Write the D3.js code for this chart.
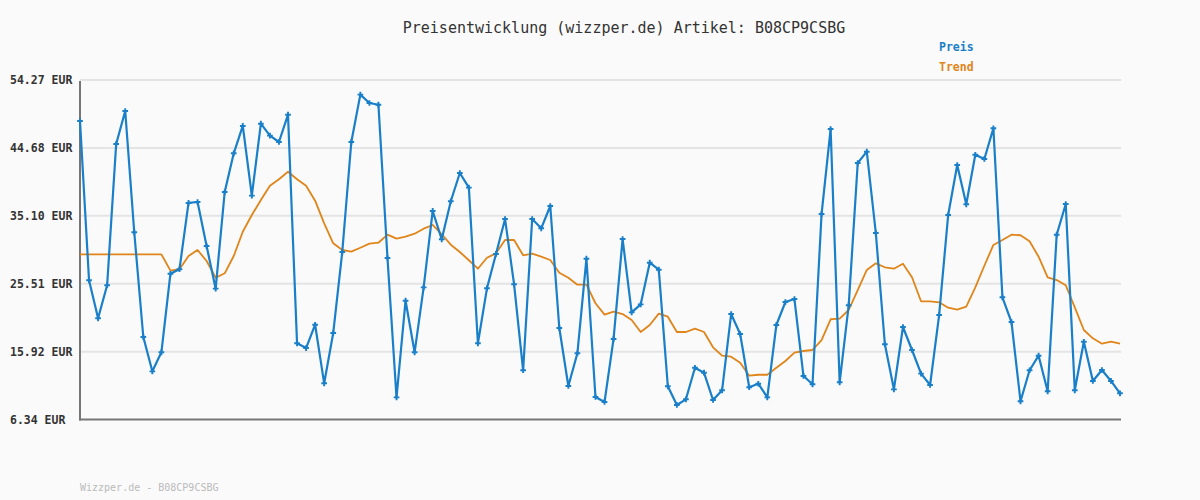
<!DOCTYPE html>
<html>
<head>
<meta charset="utf-8">
<script src="https://cdn.jsdelivr.net/npm/d3@7/dist/d3.min.js"></script>
<style>
  html, body { margin: 0; padding: 0; background: #fafafa; }
  svg { display: block; }
</style>
</head>
<body>
<svg id="chart" width="1200" height="500"></svg>
<script>
const titleText = "Preisentwicklung (wizzper.de) Artikel: B08CP9CSBG";
const footerText = "Wizzper.de - B08CP9CSBG";
const seriesNames = ["Preis", "Trend"];
const yTicks = [6.34, 15.92, 25.51, 35.10, 44.68, 54.27];
const yTickLabels = ["6.34 EUR", "15.92 EUR", "25.51 EUR", "35.10 EUR", "44.68 EUR", "54.27 EUR"];

const preis = [
  48.48, 25.99, 20.63, 25.29, 45.23, 49.89, 32.77, 17.99, 13.14, 15.83,
  26.92, 27.55, 36.91, 37.05, 30.83, 24.81, 38.46, 43.92, 47.78, 37.94,
  48.10, 46.41, 45.52, 49.37, 17.10, 16.43, 19.72, 11.45, 18.55, 29.99,
  45.52, 52.20, 51.02, 50.78, 29.14, 9.47, 23.11, 15.83, 25.00, 35.78,
  31.78, 37.15, 41.14, 39.07, 17.10, 24.86, 29.71, 34.65, 25.43, 13.29,
  34.65, 33.33, 36.48, 19.26, 11.07, 15.69, 29.04, 9.52, 8.81, 17.71,
  31.82, 21.47, 22.60, 28.48, 27.49, 11.03, 8.39, 9.19, 13.65, 12.95,
  9.09, 10.46, 21.23, 18.41, 10.89, 11.39, 9.47, 19.68, 22.93, 23.35,
  12.48, 11.31, 35.35, 47.35, 11.59, 22.46, 42.55, 44.15, 32.67, 16.96,
  10.60, 19.40, 16.15, 12.81, 11.21, 21.09, 35.21, 42.27, 36.72, 43.72,
  43.12, 47.45, 23.59, 20.10, 8.91, 13.29, 15.35, 10.32, 32.43, 36.76,
  10.46, 17.32, 11.78, 13.33, 11.78, 10.04
];

const trend = [
  29.66, 29.66, 29.66, 29.66, 29.66, 29.66, 29.66, 29.66, 29.66, 29.66,
  27.35, 27.55, 29.42, 30.27, 28.72, 26.36, 26.98, 29.42, 32.85, 35.21,
  37.33, 39.35, 40.25, 41.32, 40.25, 39.35, 37.23, 34.04, 31.22, 30.27,
  30.03, 30.59, 31.16, 31.30, 32.43, 31.87, 32.15, 32.57, 33.28, 33.80,
  32.49, 31.02, 29.99, 28.82, 27.63, 29.18, 29.80, 31.68, 31.68, 29.52,
  29.75, 29.32, 28.86, 27.07, 26.36, 25.37, 25.37, 22.75, 21.14, 21.56,
  21.23, 20.39, 18.69, 19.68, 21.28, 20.85, 18.69, 18.69, 19.16, 18.69,
  16.53, 15.35, 15.21, 14.36, 12.52, 12.66, 12.66, 13.65, 14.60, 15.77,
  16.01, 16.15, 17.56, 20.49, 20.57, 21.80, 24.62, 27.45, 28.39, 27.83,
  27.63, 28.34, 26.42, 23.03, 23.03, 22.89, 22.12, 21.84, 22.27, 25.00,
  28.05, 30.98, 31.68, 32.43, 32.35, 31.50, 29.32, 26.42, 26.03, 25.29,
  22.18, 18.98, 17.80, 17.04, 17.32, 17.04
];

const colors = { preis: "#1a7fc9", trend: "#e0851a" };
const mono = "'DejaVu Sans Mono', 'Liberation Mono', monospace";

const svg = d3.select("#chart");
svg.append("rect").attr("width", 1200).attr("height", 500).attr("fill", "#fafafa");

const x = d3.scaleLinear().domain([0, preis.length - 1]).range([80, 1120]);
const y = d3.scaleLinear().domain([yTicks[0], yTicks[yTicks.length - 1]]).range([419.5, 80]);

// gridlines
svg.append("g").selectAll("line").data(yTicks.slice(1)).join("line")
  .attr("x1", 80).attr("x2", 1121)
  .attr("y1", d => y(d)).attr("y2", d => y(d))
  .attr("stroke", "#e4e4e4").attr("stroke-width", 2);

// y tick labels
svg.append("g").selectAll("text").data(yTicks).join("text")
  .attr("x", 10).attr("y", d => y(d) + 4)
  .attr("font-family", mono).attr("font-size", 11.5).attr("font-weight", "bold")
  .attr("fill", "#333")
  .text((d, i) => yTickLabels[i]);

// axes
svg.append("line").attr("x1", 80).attr("x2", 80).attr("y1", 81).attr("y2", 420.5)
  .attr("stroke", "#777").attr("stroke-width", 2);
svg.append("line").attr("x1", 79).attr("x2", 1121).attr("y1", y(yTicks[0])).attr("y2", y(yTicks[0]))
  .attr("stroke", "#777").attr("stroke-width", 2);

// trend line
const line = d3.line().x((d, i) => x(i)).y(d => y(d));
svg.append("path").datum(trend).attr("d", line)
  .attr("fill", "none").attr("stroke", colors.trend).attr("stroke-width", 1.8)
  .attr("stroke-linejoin", "round");

// price line
svg.append("path").datum(preis).attr("d", line)
  .attr("fill", "none").attr("stroke", colors.preis).attr("stroke-width", 2.2)
  .attr("stroke-linejoin", "round");

// markers (small crosses)
const cross = d3.symbol().type(d3.symbolCross).size(18);
svg.append("g").selectAll("path").data(preis).join("path")
  .attr("d", cross)
  .attr("transform", (d, i) => `translate(${x(i)},${y(d)})`)
  .attr("fill", colors.preis);

// title
svg.append("text").attr("x", 624).attr("y", 33).attr("text-anchor", "middle")
  .attr("font-family", mono).attr("font-size", 15).attr("fill", "#333")
  .text(titleText);

// legend
const legendColors = [colors.preis, colors.trend];
svg.append("g").selectAll("text").data(seriesNames).join("text")
  .attr("x", 939).attr("y", (d, i) => 51 + i * 20)
  .attr("font-family", mono).attr("font-size", 11.5).attr("font-weight", "bold")
  .attr("fill", (d, i) => legendColors[i])
  .text(d => d);

// footer
svg.append("text").attr("x", 80).attr("y", 491)
  .attr("font-family", mono).attr("font-size", 10).attr("fill", "#bbb")
  .text(footerText);
</script>
</body>
</html>
